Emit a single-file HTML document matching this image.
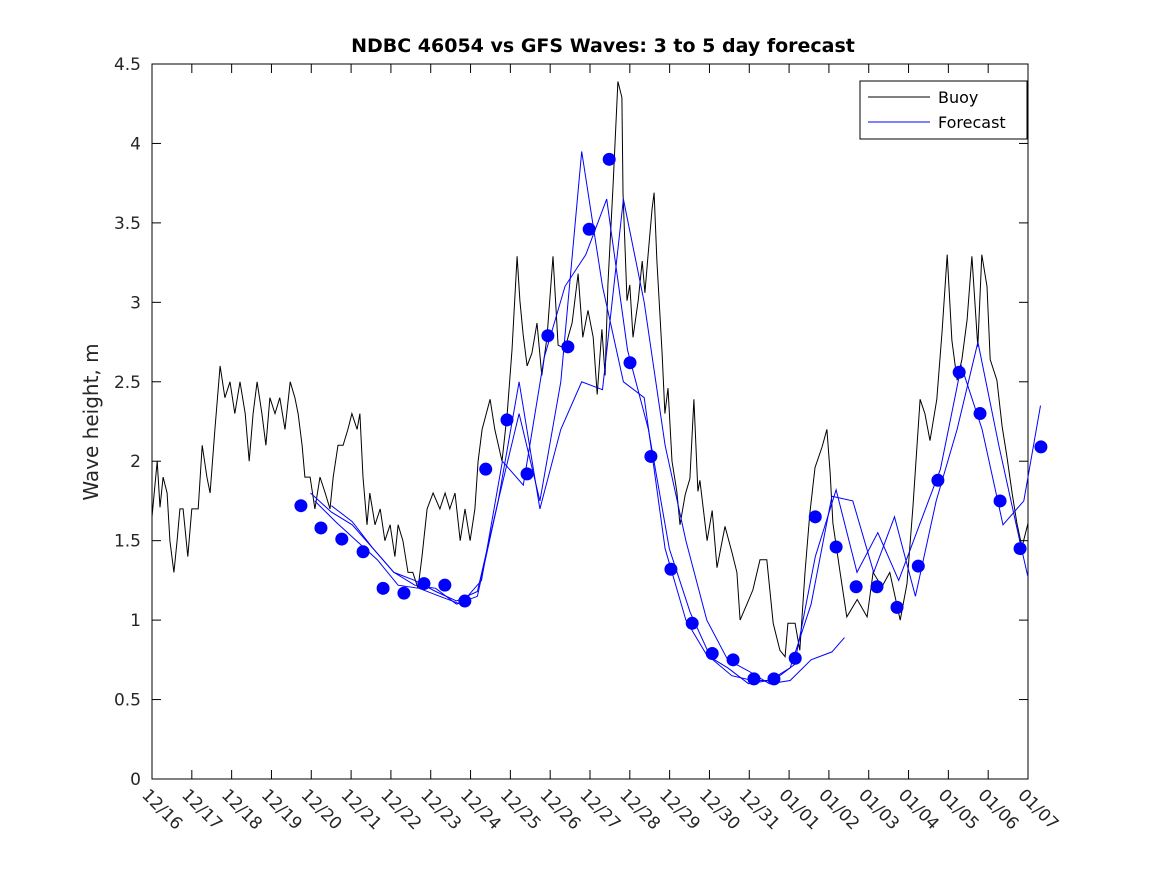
<!DOCTYPE html>
<html><head><meta charset="utf-8"><style>
body{margin:0;background:#fff}
svg text{font-family:"DejaVu Sans","Liberation Sans",sans-serif}
</style></head><body>
<svg id="chart" width="1167" height="875" xmlns="http://www.w3.org/2000/svg">
<rect width="1167" height="875" fill="#fff"/>
<text x="603" y="52" text-anchor="middle" font-size="19" font-weight="bold">NDBC 46054 vs GFS Waves: 3 to 5 day forecast</text>
<text transform="translate(98,422) rotate(-90)" text-anchor="middle" font-size="20" fill="#262626">Wave height, m</text>
<g id="plot"></g>
<g>
<rect x="860" y="81" width="167" height="58" fill="#fff" stroke="#000" stroke-width="1"/>
<line x1="868" y1="97" x2="930" y2="97" stroke="#000"/>
<text x="938" y="103" font-size="16">Buoy</text>
<line x1="868" y1="122" x2="930" y2="122" stroke="#0000ff"/>
<text x="938" y="128" font-size="16">Forecast</text>
</g>
</svg>
<script>
// forecast days are in "plot units" where 21 units span 12/16..01/07 (22 days)
const UNIT_TO_DAY=22/21;
const xTickLabels=["12/16","12/17","12/18","12/19","12/20","12/21","12/22","12/23","12/24","12/25","12/26","12/27","12/28","12/29","12/30","12/31","01/01","01/02","01/03","01/04","01/05","01/06","01/07"];
const yTicks=[0,0.5,1,1.5,2,2.5,3,3.5,4,4.5];
// buoy: days since 12/16 00:00
const buoyDays=[0.00,0.13,0.20,0.28,0.38,0.45,0.55,0.63,0.70,0.78,0.90,1.00,1.16,1.26,1.38,1.46,1.58,1.71,1.83,1.96,2.08,2.21,2.34,2.44,2.54,2.64,2.76,2.86,2.96,3.09,3.21,3.34,3.47,3.59,3.67,3.77,3.84,3.97,4.09,4.22,4.35,4.47,4.55,4.67,4.80,4.92,5.02,5.15,5.22,5.30,5.40,5.47,5.60,5.73,5.85,5.98,6.10,6.18,6.30,6.43,6.55,6.68,6.78,6.91,7.06,7.23,7.36,7.48,7.61,7.74,7.86,7.99,8.11,8.19,8.29,8.49,8.61,8.79,8.92,9.04,9.17,9.24,9.32,9.42,9.54,9.67,9.79,9.92,10.07,10.20,10.37,10.55,10.70,10.82,10.95,11.08,11.18,11.30,11.38,11.45,11.58,11.70,11.80,11.83,11.93,12.00,12.08,12.21,12.31,12.38,12.46,12.56,12.61,12.68,12.81,12.88,12.96,13.06,13.18,13.26,13.39,13.51,13.61,13.71,13.76,13.94,14.07,14.19,14.39,14.57,14.69,14.77,14.94,15.09,15.27,15.44,15.60,15.77,15.90,15.97,16.15,16.27,16.40,16.52,16.65,16.83,16.95,17.03,17.10,17.28,17.45,17.71,17.96,18.11,18.33,18.53,18.79,18.96,19.11,19.29,19.41,19.54,19.71,19.84,19.97,20.09,20.22,20.34,20.47,20.59,20.74,20.84,20.97,21.05,21.22,21.35,21.47,21.60,21.72,21.85,22.0];
const buoyHeights=[1.65,2.0,1.71,1.9,1.8,1.5,1.3,1.5,1.7,1.7,1.4,1.7,1.7,2.1,1.9,1.8,2.2,2.6,2.4,2.5,2.3,2.5,2.3,2.0,2.3,2.5,2.3,2.1,2.4,2.3,2.4,2.2,2.5,2.4,2.3,2.1,1.9,1.9,1.7,1.9,1.8,1.7,1.9,2.1,2.1,2.2,2.3,2.2,2.3,1.9,1.6,1.8,1.6,1.7,1.5,1.6,1.4,1.6,1.5,1.3,1.3,1.2,1.4,1.7,1.8,1.7,1.8,1.7,1.8,1.5,1.7,1.5,1.7,2.0,2.2,2.39,2.2,2.0,2.3,2.7,3.29,3.01,2.8,2.6,2.68,2.87,2.54,2.78,3.29,2.73,2.71,2.87,3.18,2.78,2.95,2.78,2.42,2.83,2.54,3.11,3.74,4.39,4.29,3.69,3.01,3.11,2.78,3.01,3.26,3.06,3.30,3.59,3.69,3.26,2.68,2.30,2.46,2.0,1.81,1.6,1.79,1.89,2.39,1.81,1.88,1.5,1.69,1.33,1.59,1.42,1.3,1.0,1.1,1.19,1.38,1.38,0.98,0.81,0.77,0.98,0.98,0.81,1.3,1.67,1.96,2.09,2.2,1.93,1.61,1.3,1.02,1.13,1.02,1.3,1.21,1.3,1.0,1.23,1.71,2.39,2.3,2.13,2.39,2.81,3.3,2.76,2.51,2.64,2.89,3.29,2.72,3.3,3.1,2.64,2.51,2.22,2.03,1.8,1.61,1.46,1.61];
const dotDays=[3.57,4.05,4.55,5.06,5.54,6.04,6.52,7.02,7.5,8.0,8.51,8.99,9.49,9.97,10.48,10.96,11.46,11.96,12.44,12.95,13.43,13.93,14.43,14.91,15.42,15.9,16.4,16.88,17.38,17.86,18.37,18.84,19.35,19.85,20.33,20.81,21.31];
const dotHeights=[1.72,1.58,1.51,1.43,1.2,1.17,1.23,1.22,1.12,1.95,2.26,1.92,2.79,2.72,3.46,3.9,2.62,2.03,1.32,0.98,0.79,0.75,0.63,0.63,0.76,1.65,1.46,1.21,1.21,1.08,1.34,1.88,2.56,2.3,1.75,1.45,2.09];
const run1Days=[3.8,4.3,4.8,5.3,5.8,6.3,6.8,7.3,7.8,8.3,8.8,9.3,9.8,10.3,10.8,11.3,11.8,12.3,12.8,13.3,13.8,14.3,14.8,15.3,15.8,16.3,16.6];
const run1Heights=[1.8,1.68,1.6,1.45,1.3,1.22,1.2,1.1,1.15,1.75,2.5,1.7,2.2,2.5,2.45,3.65,3.0,2.1,1.5,1.0,0.75,0.68,0.6,0.62,0.75,0.8,0.89];
const run2Days=[4.3,4.8,5.3,5.8,6.3,6.8,7.3,7.8,8.3,8.8,9.3,9.8,10.3,10.8,11.3,11.8,12.3,12.8,13.3,13.8,14.3,14.8,15.3,15.8,16.3,16.8,17.3,17.8,18.3,18.8,19.3,19.8,20.3,20.8,21.0];
const run2Heights=[1.72,1.62,1.45,1.3,1.25,1.18,1.12,1.18,1.75,2.3,1.75,2.5,3.95,3.1,2.5,2.4,1.45,1.0,0.78,0.7,0.6,0.62,0.7,1.1,1.78,1.75,1.3,1.65,1.15,1.75,2.2,2.75,2.1,1.5,1.27];
const run3Days=[3.9,4.4,4.9,5.4,5.9,6.4,6.9,7.4,7.9,8.4,8.9,9.4,9.9,10.4,10.9,11.4,11.9,12.4,12.9,13.4,13.9,14.4,14.9,15.4,15.9,16.4,16.9,17.4,17.9,18.4,18.9,19.4,19.9,20.4,20.9,21.3];
const run3Heights=[1.75,1.62,1.5,1.38,1.22,1.2,1.15,1.1,1.25,2.0,1.85,2.65,3.1,3.3,3.65,2.7,2.2,1.45,1.05,0.76,0.65,0.62,0.62,0.72,1.4,1.82,1.3,1.55,1.25,1.6,1.95,2.6,2.2,1.6,1.75,2.35];
const XD=day=>152+876*day/22;      // day offset from 12/16
const X=u=>XD(u*UNIT_TO_DAY);      // plot units
const Y=v=>779-(779-64)*v/4.5;
const ns="http://www.w3.org/2000/svg";
const g=document.getElementById('plot');
function mk(t,a){const e=document.createElementNS(ns,t);for(const k in a)e.setAttribute(k,a[k]);return e;}
const frame=mk('rect',{x:152,y:64,width:876,height:715,fill:'none',stroke:'#000','stroke-width':1});


g.appendChild(frame);
xTickLabels.forEach((lab,i)=>{
  const x=XD(i);
  const t1=mk('line',{x1:x,y1:779,x2:x,y2:770,stroke:'#000'});
  
  
  g.appendChild(t1);
  const t2=mk('line',{x1:x,y1:64,x2:x,y2:73,stroke:'#000'});
  
  
  g.appendChild(t2);
  const tx=mk('text',{transform:`translate(${x-11},${796}) rotate(45)`,'font-size':17,fill:'#262626'});
  tx.textContent=lab;
  
  
  g.appendChild(tx);
});
yTicks.forEach(v=>{
  const y=Y(v);
  const t1=mk('line',{x1:152,y1:y,x2:161,y2:y,stroke:'#000'});
  
  
  g.appendChild(t1);
  const t2=mk('line',{x1:1028,y1:y,x2:1019,y2:y,stroke:'#000'});
  
  
  g.appendChild(t2);
  const tx=mk('text',{x:141,y:y+6,'text-anchor':'end','font-size':17,fill:'#262626'});
  tx.textContent=String(v);
  
  
  g.appendChild(tx);
});
function line(ds,vs,col,name,xf){
  let p='';
  ds.forEach((d,i)=>{p+=(i?'L':'M')+xf(d).toFixed(1)+','+Y(vs[i]).toFixed(1);});
  const e=mk('path',{d:p,fill:'none',stroke:col,'stroke-width':1});
  
  
  g.appendChild(e);
}
line(buoyDays,buoyHeights,'#000','buoy-line',XD);
line(run1Days,run1Heights,'#0000ff','forecast-run-1',X);
line(run2Days,run2Heights,'#0000ff','forecast-run-2',X);
line(run3Days,run3Heights,'#0000ff','forecast-run-3',X);
dotDays.forEach((d,i)=>{
  const c=mk('circle',{cx:X(d),cy:Y(dotHeights[i]),r:6.5,fill:'#0000ff'});
  
  
  g.appendChild(c);
});
</script>
</body></html>
